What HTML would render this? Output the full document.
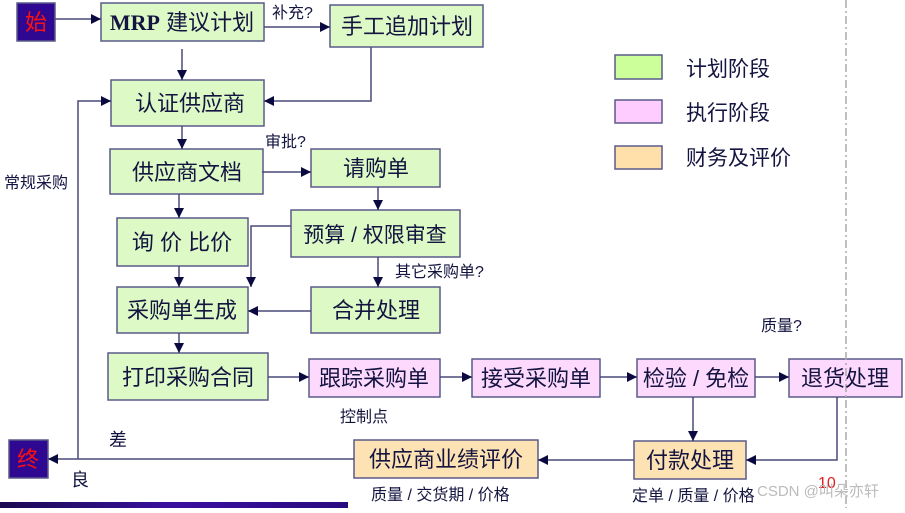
<!DOCTYPE html>
<html><head><meta charset="utf-8"><style>
html,body{margin:0;padding:0;background:#fff;}
svg text{font-family:"Liberation Sans","Noto Sans CJK SC",sans-serif;fill:#141440;}
</style></head><body>
<svg width="905" height="508" viewBox="0 0 905 508" xmlns="http://www.w3.org/2000/svg">
<defs>
<marker id="a" viewBox="0 0 10 10" refX="10" refY="5" markerWidth="10" markerHeight="10" markerUnits="userSpaceOnUse" orient="auto"><path d="M0,0 L10,5 L0,10 z" fill="#0a0a40"/></marker>
<linearGradient id="g" x1="0" x2="1"><stop offset="0" stop-color="#1a0a50"/><stop offset="0.5" stop-color="#3a10a0"/><stop offset="1" stop-color="#2a0a80"/></linearGradient>
</defs>
<g stroke="#5a5a8a" stroke-width="1.5">
<rect x="17" y="3" width="38" height="38" fill="#2e0890"/>
<rect x="9" y="440" width="39" height="38" fill="#2e0890"/>
<g fill="#ddf9c6">
<rect x="101" y="3" width="163" height="38"/>
<rect x="330" y="5" width="153" height="42"/>
<rect x="111" y="80" width="153" height="46"/>
<rect x="110" y="149" width="153" height="45"/>
<rect x="311" y="149" width="129" height="38"/>
<rect x="117" y="218" width="131" height="48"/>
<rect x="291" y="210" width="169" height="47"/>
<rect x="117" y="287" width="131" height="46"/>
<rect x="311" y="287" width="129" height="46"/>
<rect x="108" y="353" width="160" height="47"/>
<rect x="615" y="55" width="47" height="24" fill="#ccff99"/>
</g>
<g fill="#fdd9fd">
<rect x="309" y="359" width="131" height="38"/>
<rect x="472" y="359" width="128" height="38"/>
<rect x="637" y="359" width="118" height="38"/>
<rect x="789" y="359" width="113" height="38"/>
<rect x="615" y="100" width="47" height="23" fill="#ffccff"/>
</g>
<g fill="#fde3b3">
<rect x="634" y="441" width="112" height="38"/>
<rect x="354" y="440" width="184" height="38"/>
<rect x="615" y="146" width="47" height="23" fill="#ffe0aa"/>
</g>
</g>
<g stroke="#4a4a7a" stroke-width="1.5" fill="none" marker-end="url(#a)">
<line x1="55" y1="19" x2="101" y2="19"/>
<line x1="264" y1="27" x2="330" y2="27"/>
<line x1="182" y1="49" x2="182" y2="80"/>
<polyline points="371,47 371,101 264,101"/>
<line x1="182" y1="126" x2="182" y2="149"/>
<line x1="262" y1="172" x2="311" y2="172"/>
<line x1="378" y1="187" x2="378" y2="210"/>
<line x1="179" y1="194" x2="179" y2="218"/>
<polyline points="291,226 251,226 251,287"/>
<line x1="179" y1="266" x2="179" y2="287"/>
<line x1="378" y1="257" x2="378" y2="287"/>
<line x1="311" y1="311" x2="248" y2="311"/>
<line x1="179" y1="333" x2="179" y2="353"/>
<line x1="268" y1="377" x2="309" y2="377"/>
<line x1="440" y1="377" x2="472" y2="377"/>
<line x1="600" y1="377" x2="637" y2="377"/>
<line x1="755" y1="377" x2="789" y2="377"/>
<line x1="693" y1="397" x2="693" y2="441"/>
<polyline points="837,397 837,460 746,460"/>
<line x1="634" y1="460" x2="538" y2="460"/>
<line x1="354" y1="459" x2="48" y2="459"/>
<polyline points="78,459 78,101 111,101"/>
</g>
<line x1="846" y1="0" x2="846" y2="508" stroke="#aaa" stroke-width="1.5" stroke-dasharray="8,3,2,3"/>
<rect x="0" y="502" width="348" height="6" fill="url(#g)"/>
<g font-size="22" text-anchor="middle">
<text x="36" y="30" style="fill:#ff1010">始</text>
<text x="28" y="467" style="fill:#ff1010">终</text>
<text x="182" y="30"><tspan font-weight="bold" font-family="Liberation Serif">MRP</tspan> 建议计划</text>
<text x="407" y="34">手工追加计划</text>
<text x="190" y="111">认证供应商</text>
<text x="187" y="180">供应商文档</text>
<text x="376" y="176">请购单</text>
<text x="182" y="250">询 价 比价</text>
<text x="375" y="242" font-size="21">预算 / 权限审查</text>
<text x="182" y="318">采购单生成</text>
<text x="376" y="318">合并处理</text>
<text x="188" y="385">打印采购合同</text>
<text x="374" y="386">跟踪采购单</text>
<text x="536" y="386">接受采购单</text>
<text x="696" y="386">检验 / 免检</text>
<text x="845" y="386">退货处理</text>
<text x="690" y="468">付款处理</text>
<text x="446" y="467">供应商业绩评价</text>
</g>
<g font-size="21">
<text x="686" y="76">计划阶段</text>
<text x="686" y="120">执行阶段</text>
<text x="686" y="165">财务及评价</text>
</g>
<g font-size="16">
<text x="272" y="18">补充?</text>
<text x="265" y="147">审批?</text>
<text x="4" y="188">常规采购</text>
<text x="395" y="277">其它采购单?</text>
<text x="761" y="331">质量?</text>
<text x="340" y="422">控制点</text>
<text x="109" y="446" font-size="18">差</text>
<text x="71" y="486" font-size="18">良</text>
<text x="371" y="500">质量 / 交货期 / 价格</text>
<text x="632" y="501">定单 / 质量 / 价格</text>
<text x="818" y="488" style="fill:#e02020" font-family="Liberation Serif" font-size="16">10</text>
<text x="757" y="496" style="fill:#bbbbbb" font-size="15">CSDN @叫朵亦轩</text>
</g>
</svg>
</body></html>
